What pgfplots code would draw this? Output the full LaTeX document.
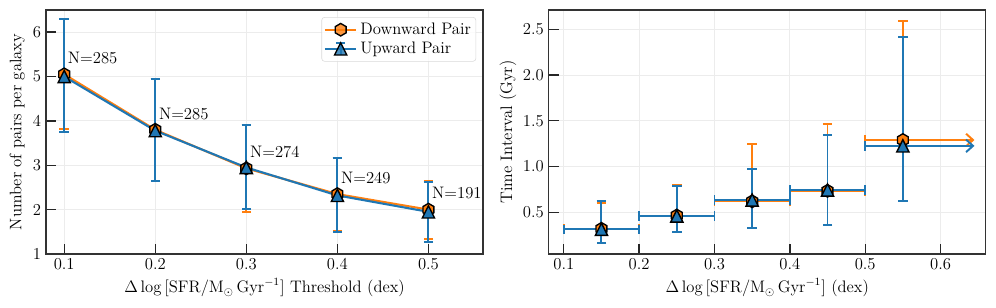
\documentclass[border=0pt]{standalone}
\usepackage{pgfplots}
\pgfplotsset{compat=1.18}
\usetikzlibrary{arrows.meta}
\definecolor{mplorange}{HTML}{FF7F0E}
\definecolor{mplblue}{HTML}{1F77B4}

\pgfdeclareplotmark{hexa}{%
  \pgfpathmoveto{\pgfpointpolar{90}{\pgfplotmarksize}}%
  \pgfpathlineto{\pgfpointpolar{150}{\pgfplotmarksize}}%
  \pgfpathlineto{\pgfpointpolar{210}{\pgfplotmarksize}}%
  \pgfpathlineto{\pgfpointpolar{270}{\pgfplotmarksize}}%
  \pgfpathlineto{\pgfpointpolar{330}{\pgfplotmarksize}}%
  \pgfpathlineto{\pgfpointpolar{30}{\pgfplotmarksize}}%
  \pgfpathclose
  \pgfusepathqfillstroke
}
\pgfdeclareplotmark{mtri}{%
  \pgfpathmoveto{\pgfqpoint{0pt}{\pgfplotmarksize}}%
  \pgfpathlineto{\pgfqpoint{-\pgfplotmarksize}{-\pgfplotmarksize}}%
  \pgfpathlineto{\pgfqpoint{\pgfplotmarksize}{-\pgfplotmarksize}}%
  \pgfpathclose
  \pgfusepathqfillstroke
}

\pgfplotstableread{
x y eym eyp
0.1 5.05 1.240 1.250
0.2 3.80 1.150 1.140
0.3 2.93 0.975 0.970
0.4 2.35 0.820 0.810
0.5 2.00 0.660 0.650
}\downL
\pgfplotstableread{
x y eym eyp
0.1 5.00 1.260 1.300
0.2 3.78 1.130 1.160
0.3 2.95 0.940 0.950
0.4 2.32 0.830 0.840
0.5 1.95 0.690 0.680
}\upL
\pgfplotstableread{
x y lab
0.1 5.41 N=285
0.2 4.16 N=285
0.3 3.30 N=274
0.4 2.72 N=249
0.5 2.37 N=191
}\labL
\pgfplotstableread{
x y ex eym eyp
0.15 0.320 0.05 0.150 0.280
0.25 0.465 0.05 0.175 0.335
0.35 0.620 0.05 0.295 0.625
0.45 0.735 0.05 0.377 0.730
}\downR
\pgfplotstableread{
x y ex eym eyp
0.55 1.290 0.05 0.663 1.300
}\downRlast
\pgfplotstableread{
x y ex eym eyp
0.15 0.315 0.05 0.145 0.310
0.25 0.460 0.05 0.170 0.330
0.35 0.634 0.05 0.309 0.336
0.45 0.743 0.05 0.385 0.602
}\upR
\pgfplotstableread{
x y ex eym eyp
0.55 1.226 0.05 0.599 1.184
}\upRlast

\pgfplotsset{
  myaxis/.style={
    scale only axis, width=314.7pt, height=175.7pt,
    axis line style={black!80, line width=1pt},
    tick align=inside, xtick pos=bottom, ytick pos=left,
    major tick length=7.5pt,
    every tick/.style={black!85, line width=1pt},
    grid=major, major grid style={gray!15, line width=0.6pt},
    tick label style={font=\fontsize{12}{14}\selectfont},
    label style={font=\fontsize{12}{14}\selectfont},
  },
  error bars/ebar/.style={error bar style={line width=1.4pt, #1},
    error mark options={rotate=90, line width=1.4pt, #1, mark size=3.4pt}},
}

\begin{document}
\begin{tikzpicture}
\useasboundingbox (0,0) rectangle (717.12pt,221.76pt);
% ---------------- left panel
\begin{axis}[myaxis, at={(33.12pt,38.88pt)}, anchor=south west,
  xmin=0.08, xmax=0.56, ymin=1, ymax=6.5,
  xtick={0.1,0.2,0.3,0.4,0.5}, ytick={1,2,3,4,5,6},
  xticklabel style={/pgf/number format/.cd, fixed, fixed zerofill, precision=1},
  xlabel={$\Delta\log\,[\mathrm{SFR}/\mathrm{M}_\odot\,\mathrm{Gyr}^{-1}]$ Threshold (dex)},
  ylabel={Number of pairs per galaxy},
  xlabel style={at={(axis description cs:0.5,-0.138)}, anchor=center},
  ylabel style={at={(axis description cs:-0.066,0.5)}, anchor=center},
  legend style={at={(axis description cs:0.984,0.971)}, anchor=north east,
    draw=gray!30, rounded corners=2pt, fill=white, fill opacity=0.8, text opacity=1,
    font=\fontsize{12}{14}\selectfont, cells={anchor=west}, row sep=0pt,
    inner xsep=1.5pt},
]
\addplot[forget plot, mplorange, line width=1.5pt, mark=hexa, mark size=4.5pt,
  mark options={solid, fill=mplorange, draw=black, line width=1pt},
  error bars/.cd, y dir=both, y explicit, ebar=mplorange]
  table[x=x, y=y, y error minus=eym, y error plus=eyp] {\downL};
\addplot[forget plot, mplblue, line width=1.5pt, mark=mtri, mark size=4.4pt,
  mark options={solid, fill=mplblue, draw=black, line width=1pt},
  error bars/.cd, y dir=both, y explicit, ebar=mplblue]
  table[x=x, y=y, y error minus=eym, y error plus=eyp] {\upL};
\addplot[forget plot, draw=none, nodes near coords, point meta=explicit symbolic,
  nodes near coords style={anchor=west, inner sep=0pt, xshift=2.5pt, font=\fontsize{12}{14}\selectfont, text=black}]
  table[x=x, y=y, meta=lab] {\labL};
\addlegendimage{legend image code/.code={
  \draw[mplorange, line width=1.5pt] (0cm,0cm) -- (0.8cm,0cm);
  \draw[mark=hexa, mark size=4.5pt, mark options={fill=mplorange, draw=black, line width=1pt}] plot coordinates {(0.4cm,0cm)};
}}
\addlegendentry{Downward Pair}
\addlegendimage{legend image code/.code={
  \draw[mplblue, line width=1.5pt] (0cm,0cm) -- (0.8cm,0cm);
  \draw[mplblue, line width=1.3pt] (0.4cm,-4.4pt) -- (0.4cm,4.4pt);
  \draw[mplblue, line width=1.3pt] (0.4cm-3.4pt,4.4pt) -- (0.4cm+3.4pt,4.4pt);
  \draw[mark=mtri, mark size=4.4pt, mark options={fill=mplblue, draw=black, line width=1pt}] plot coordinates {(0.4cm,0cm)};
}}
\addlegendentry{Upward Pair}
\end{axis}
% ---------------- right panel
\begin{axis}[myaxis, at={(395.06pt,38.88pt)}, anchor=south west,
  xmin=0.08, xmax=0.66, ymin=0.045, ymax=2.71,
  xtick={0.1,0.2,0.3,0.4,0.5,0.6}, ytick={0.5,1.0,1.5,2.0,2.5},
  xticklabel style={/pgf/number format/.cd, fixed, fixed zerofill, precision=1},
  yticklabel style={/pgf/number format/.cd, fixed, fixed zerofill, precision=1},
  xlabel={$\Delta\log\,[\mathrm{SFR}/\mathrm{M}_\odot\,\mathrm{Gyr}^{-1}]$ (dex)},
  ylabel={Time Interval (Gyr)},
  xlabel style={at={(axis description cs:0.5,-0.138)}, anchor=center},
  ylabel style={at={(axis description cs:-0.093,0.5)}, anchor=center},
]
% downward
\addplot[mplorange, only marks, mark=hexa, mark size=4.5pt,
  mark options={solid, fill=mplorange, draw=black, line width=1pt},
  error bars/.cd, y dir=both, y explicit, x dir=both, x explicit, ebar=mplorange]
  table[x=x, y=y, x error=ex, y error minus=eym, y error plus=eyp] {\downR};
\addplot[mplorange, line width=1.4pt, -{Straight Barb[length=5pt, width=9pt, line width=1.4pt]}]
  coordinates {(0.55,1.290) (0.645,1.290)};
\addplot[mplorange, only marks, mark=hexa, mark size=4.5pt,
  mark options={solid, fill=mplorange, draw=black, line width=1pt},
  error bars/.cd, y dir=both, y explicit, x dir=minus, x explicit, ebar=mplorange]
  table[x=x, y=y, x error=ex, y error minus=eym, y error plus=eyp] {\downRlast};
% upward
\addplot[mplblue, only marks, mark=mtri, mark size=4.4pt,
  mark options={solid, fill=mplblue, draw=black, line width=1pt},
  error bars/.cd, y dir=both, y explicit, x dir=both, x explicit, ebar=mplblue]
  table[x=x, y=y, x error=ex, y error minus=eym, y error plus=eyp] {\upR};
\addplot[mplblue, line width=1.4pt, -{Straight Barb[length=5pt, width=9pt, line width=1.4pt]}]
  coordinates {(0.55,1.226) (0.645,1.226)};
\addplot[mplblue, only marks, mark=mtri, mark size=4.4pt,
  mark options={solid, fill=mplblue, draw=black, line width=1pt},
  error bars/.cd, y dir=both, y explicit, x dir=minus, x explicit, ebar=mplblue]
  table[x=x, y=y, x error=ex, y error minus=eym, y error plus=eyp] {\upRlast};
\end{axis}
\end{tikzpicture}
\end{document}
